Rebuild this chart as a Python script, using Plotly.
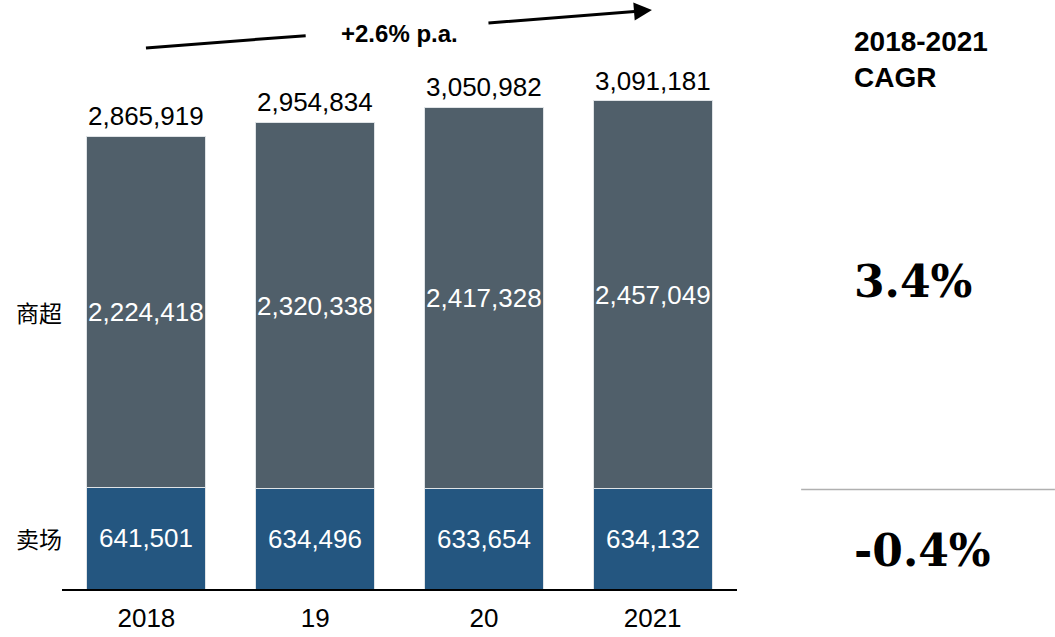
import plotly.graph_objects as go

years = ["2018", "19", "20", "2021"]
hypermarket = [641501, 634496, 633654, 634132]      # 卖场
supermarket = [2224418, 2320338, 2417328, 2457049]  # 商超
totals = [2865919, 2954834, 3050982, 3091181]
series_names = ["卖场", "商超"]
cagr_title = "2018-2021<br>CAGR"
cagr_values = ["3.4%", "-0.4%"]
growth_label = "+2.6% p.a."

C_TOP = "#505F6A"
C_BOT = "#245680"
SANS = "Liberation Sans, Arial, sans-serif"
SERIF = "DejaVu Serif, Georgia, serif"
CJK = "Noto Sans CJK SC, sans-serif"

fig = go.Figure()
fig.add_bar(x=years, y=hypermarket, name=series_names[0], marker_color=C_BOT,
            marker_line=dict(color="#dfe3e6", width=1), hoverinfo="skip")
fig.add_bar(x=years, y=supermarket, name=series_names[1], marker_color=C_TOP,
            marker_line=dict(color="#dfe3e6", width=1), hoverinfo="skip")

ann = []
for i, yr in enumerate(years):
    ann.append(dict(x=i, y=totals[i], xref="x", yref="y", text=f"{totals[i]:,}",
                    showarrow=False, yanchor="bottom", yshift=3,
                    font=dict(family=SANS, size=26, color="black")))
    ann.append(dict(x=i, y=hypermarket[i] / 2, xref="x", yref="y", text=f"{hypermarket[i]:,}",
                    showarrow=False, yanchor="middle",
                    font=dict(family=SANS, size=26, color="white")))
    ann.append(dict(x=i, y=hypermarket[i] + supermarket[i] / 2, xref="x", yref="y",
                    text=f"{supermarket[i]:,}", showarrow=False, yanchor="middle",
                    font=dict(family=SANS, size=26, color="white")))

# series labels on the left
ann.append(dict(x=-0.034, y=hypermarket[0] + supermarket[0] / 2, xref="paper", yref="y",
                text=series_names[1], showarrow=False, xanchor="center", yanchor="middle",
                font=dict(family=CJK, size=23, color="black")))
ann.append(dict(x=-0.034, y=hypermarket[0] / 2, xref="paper", yref="y",
                text=series_names[0], showarrow=False, xanchor="center", yanchor="middle",
                font=dict(family=CJK, size=23, color="black")))

# growth arrow text and arrow head segment
ann.append(dict(x=0.5007, y=0.977, xref="paper", yref="paper", text=f"<b>{growth_label}</b>",
                showarrow=False, xanchor="center", yanchor="middle",
                font=dict(family=SANS, size=24, color="black")))
ann.append(dict(x=0.874, y=1.0175, xref="paper", yref="paper", text="",
                showarrow=True, ax=-165, ay=13, arrowhead=2, arrowsize=1.2,
                arrowwidth=3, arrowcolor="black"))

# right side CAGR column
ann.append(dict(x=1.170, y=0.930, xref="paper", yref="paper", text=f"<b>{cagr_title}</b>",
                showarrow=False, xanchor="left", yanchor="middle", align="left",
                font=dict(family=SANS, size=28, color="black")))
ann.append(dict(x=1.170, y=0.540, xref="paper", yref="paper", text=f"<b>{cagr_values[0]}</b>",
                showarrow=False, xanchor="left", yanchor="middle",
                font=dict(family=SERIF, size=44, color="black")))
ann.append(dict(x=1.170, y=0.068, xref="paper", yref="paper", text=f"<b>{cagr_values[1]}</b>",
                showarrow=False, xanchor="left", yanchor="middle",
                font=dict(family=SERIF, size=44, color="black")))

shapes = [
    dict(type="line", xref="paper", yref="paper", x0=0.1244, y0=0.951, x1=0.3610, y1=0.9725,
         line=dict(color="black", width=3)),
    dict(type="line", xref="paper", yref="paper", x0=1.095, y0=0.1748, x1=1.471, y1=0.1748,
         line=dict(color="#b0b0b0", width=1.5)),
]

fig.update_layout(
    barmode="stack", bargap=0.295,
    width=1055, height=645,
    margin=dict(l=62, r=318, t=20, b=46),
    plot_bgcolor="white", paper_bgcolor="white",
    showlegend=False,
    annotations=ann, shapes=shapes,
    xaxis=dict(type="category", showline=True, linecolor="black", linewidth=1.5, showgrid=False,
               ticks="", ticklabelstandoff=5, tickfont=dict(family=SANS, size=26, color="black"),
               range=[-0.5, 3.5], fixedrange=True),
    yaxis=dict(visible=False, range=[0, 3602000], showgrid=False, fixedrange=True),
)

fig.write_html("out.html", config={"displayModeBar": False},
               post_script="document.body.style.margin='0';document.body.style.overflow='hidden';")
